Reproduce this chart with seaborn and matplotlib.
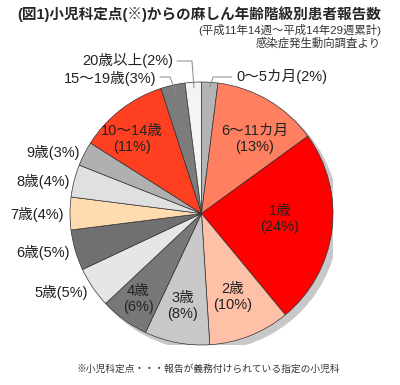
import matplotlib
matplotlib.use("Agg")
import matplotlib.pyplot as plt
import seaborn as sns
from matplotlib.patches import Circle

sns.set_style("white")
plt.rcParams["font.family"] = ["Liberation Sans", "Noto Sans CJK JP", "DejaVu Sans"]

# clockwise from 12 o'clock
groups = ["0～5カ月", "6～11カ月", "1歳", "2歳", "3歳", "4歳", "5歳", "6歳",
          "7歳", "8歳", "9歳", "10～14歳", "15～19歳", "20歳以上"]
shares = [2, 13, 24, 10, 8, 6, 5, 5, 4, 4, 3, 11, 3, 2]
colors = ["#b4b4b4", "#ff8060", "#ff0000", "#ffc0a8", "#c8c8c8", "#787878",
          "#e6e6e6", "#707070", "#ffdcb0", "#e0e0e0", "#b0b0b0", "#ff4020",
          "#7c7c7c", "#f4f4f4"]

fig = plt.figure(figsize=(4.0, 3.85), dpi=100)
fig.patch.set_facecolor("white")
ax = fig.add_axes([70 / 400, 40 / 385, 263 / 400, 263 / 385])

ax.add_patch(Circle((0.04, -0.04), 1.0, color="#c8c8c8", zorder=0))
wedges, _ = ax.pie(shares, colors=colors, startangle=90, counterclock=False,
                   radius=1.0, wedgeprops=dict(edgecolor="#333333", linewidth=0.5))
ax.set_xlim(-1, 1)
ax.set_ylim(-1, 1)
ax.set_aspect("auto")
ax.axis("off")

FS = 10.5


def px(x, y):
    return x / 400, 1 - y / 385


# inside labels (pixel centres)
inner_pos = {"6～11カ月": (255, 139), "1歳": (280, 219), "2歳": (233, 297),
             "3歳": (183, 306), "4歳": (138, 299), "10～14歳": (132, 139)}
for g, s in zip(groups, shares):
    if g in inner_pos:
        x, y = inner_pos[g]
        fig.text(*px(x, y), f"{g}\n({s}%)", ha="center", va="center",
                 fontsize=FS, linespacing=1.2, color="#222222")

# outside labels, right-aligned at x end
outer_pos = {"9歳": (80, 152), "8歳": (70, 181), "7歳": (64, 214),
             "6歳": (70, 252), "5歳": (88, 292)}
for g, s in zip(groups, shares):
    if g in outer_pos:
        x, y = outer_pos[g]
        fig.text(*px(x, y), f"{g}({s}%)", ha="right", va="center",
                 fontsize=FS, color="#222222")

# leader-line labels
fig.text(*px(236, 76), f"{groups[0]}({shares[0]}%)", ha="left", va="center",
         fontsize=FS, color="#222222")
fig.text(*px(173, 60), f"{groups[13]}({shares[13]}%)", ha="right", va="center",
         fontsize=FS, color="#222222")
fig.text(*px(156, 78), f"{groups[12]}({shares[12]}%)", ha="right", va="center",
         fontsize=FS, color="#222222")
for xs, ys in [([210, 213, 232], [87, 77, 77]),
               ([177, 192, 194], [61, 61, 88]),
               ([160, 170, 176], [77, 77, 93])]:
    fig.add_artist(plt.Line2D([x / 400 for x in xs], [1 - y / 385 for y in ys],
                              color="#888888", linewidth=0.7))

fig.text(*px(199, 14), "(図1)小児科定点(※)からの麻しん年齢階級別患者報告数",
         ha="center", va="center", fontsize=10.5, fontweight="bold")
fig.text(*px(381, 30), "(平成11年14週～平成14年29週累計)", ha="right", va="center",
         fontsize=8.2, color="#333333")
fig.text(*px(381, 43), "感染症発生動向調査より", ha="right", va="center",
         fontsize=8.2, color="#333333")
fig.text(*px(208, 369), "※小児科定点・・・報告が義務付けられている指定の小児科",
         ha="center", va="center", fontsize=7, color="#333333")

fig.savefig("out.png", dpi=100, facecolor="white")
